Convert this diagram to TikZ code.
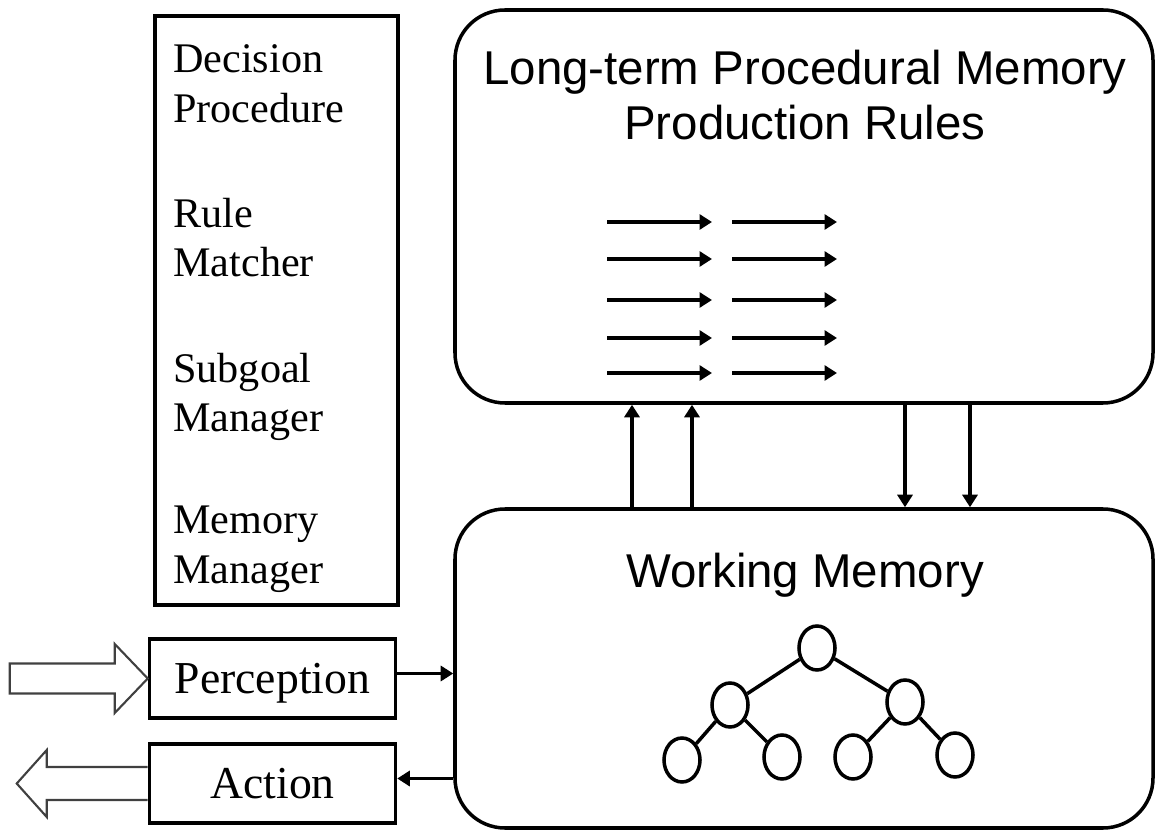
\documentclass[tikz,border=0pt]{standalone}
\usepackage{fontspec}
\setmainfont{Liberation Serif}
\setsansfont{Liberation Sans}
\usetikzlibrary{positioning,shapes.geometric,arrows.meta}

\begin{document}
\begin{tikzpicture}[
  memory/.style = {
    draw,
    rectangle,
    rounded corners = 1cm,
    line width = 2pt,
    minimum width = 13.96cm,
  },
  unit/.style = {
    draw,
    rectangle,
    line width = 2pt,
    minimum width = 4.92cm,
    minimum height = 1.58cm,
    text height = 22.7pt,
    text depth = 5.7pt,
    font = \fontsize{26}{30}\selectfont,
  },
  module/.style = {
    align = left,
    anchor = base west,
    inner sep = 0pt,
    font = \fontsize{24}{28.45}\selectfont,
  },
  title/.style = {
    anchor = base,
    inner sep = 0pt,
    font = \sffamily\fontsize{27}{31}\selectfont,
  },
  wme/.style = {
    draw,
    ellipse,
    line width = 2pt,
    minimum width = 0.72cm,
    minimum height = 0.88cm,
    inner sep = 0pt,
  },
  link/.style = {line width = 2pt},
  rule/.style = {->, line width = 1.8pt},
  flow/.style = {->, line width = 2pt},
  hollow/.style = {draw = black!75, line width = 1.2pt},
  >={Triangle[length=2.5mm,width=3mm]},
]

  \useasboundingbox (0,0) rectangle (23.12,16.62);

  % architecture modules
  \node[draw,rectangle,line width=2pt,minimum width=4.86cm,minimum height=11.78cm] (arch) at (5.53,10.41) {};
  \node[module] (dp) at (3.46,14.16) {Decision\\Procedure};
  \node[module] (rm) at (3.46,11.08) {Rule\\Matcher};
  \node[module] (sm) at (3.46,7.98) {Subgoal\\Manager};
  \node[module] (mm) at (3.46,4.96) {Memory\\Manager};

  % perception and action
  \node[unit] (perc) at (5.45,3.05) {Perception};
  \node[unit] (act) [below=0.45cm of perc] {Action};

  % long-term memory
  \node[memory,minimum height=7.86cm] (ltm) at (16.08,12.49) {};
  \node[title] (ltm1) at (16.1,14.92) {Long-term Procedural Memory};
  \node[title] (ltm2) at (16.1,13.82) {Production Rules};
  \foreach \y in {12.18,11.44,10.62,9.86,9.16} {
    \draw[rule] (12.14,\y) -- (14.24,\y);
    \draw[rule] (14.64,\y) -- (16.74,\y);
  }

  % working memory
  \node[memory,minimum height=6.38cm] (wm) at (16.08,3.25) {};
  \node[title] (wmt) at (16.1,4.86) {Working Memory};

  \node[wme] (root) at (16.34,3.66) {};
  \node[wme] (l) at (14.6,2.52) {};
  \node[wme] (r) at (18.1,2.58) {};
  \node[wme] (ll) at (13.64,1.42) {};
  \node[wme] (lr) at (15.64,1.48) {};
  \node[wme] (rl) at (17.06,1.48) {};
  \node[wme] (rr) at (19.1,1.52) {};
  \draw[link] (root) -- (l);
  \draw[link] (root) -- (r);
  \draw[link] (l) -- (ll);
  \draw[link] (l) -- (lr);
  \draw[link] (r) -- (rl);
  \draw[link] (r) -- (rr);

  % memory exchange
  \coordinate (u1) at (12.64,0);
  \coordinate (u2) at (13.84,0);
  \coordinate (d1) at (18.1,0);
  \coordinate (d2) at (19.4,0);
  \draw[flow] (wm.north -| u1) -- (ltm.south -| u1);
  \draw[flow] (wm.north -| u2) -- (ltm.south -| u2);
  \draw[flow] (ltm.south -| d1) -- (wm.north -| d1);
  \draw[flow] (ltm.south -| d2) -- (wm.north -| d2);

  \draw[flow] ([yshift=1mm]perc.east) -- ([yshift=1mm]perc.east -| wm.west);
  \draw[flow] ([yshift=1mm]act.east -| wm.west) -- ([yshift=1mm]act.east);

  % hollow in/out arrows
  \draw[hollow] (perc.west) -- ++(-0.66,0.69) -- ++(0,-0.39) -- ++(-2.1,0)
    -- ++(0,-0.6) -- ++(2.1,0) -- ++(0,-0.39) -- cycle;
  \draw[hollow] ([yshift=0.33cm]act.west) -- ++(-2.02,0) -- ++(0,0.34)
    -- ++(-0.6,-0.67) -- ++(0.6,-0.67) -- ++(0,0.34) -- ++(2.02,0);

\end{tikzpicture}
\end{document}
